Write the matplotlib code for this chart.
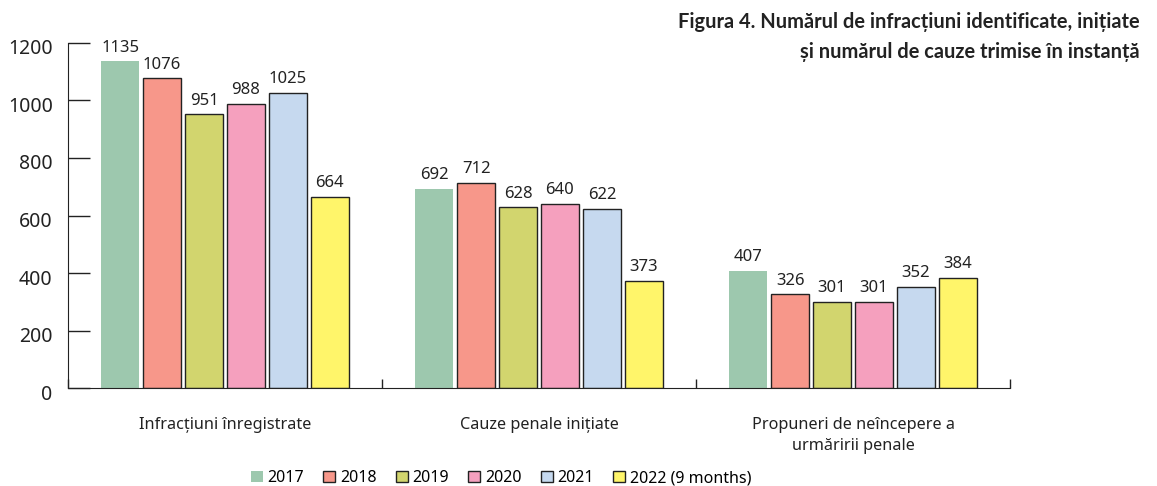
import matplotlib.pyplot as plt
import matplotlib.transforms as mtransforms
import numpy as np
from matplotlib.ticker import FixedLocator

plt.rcParams['font.family'] = ['Noto Sans', 'DejaVu Sans']

categories = ["Infracțiuni înregistrate", "Cauze penale inițiate",
              "Propuneri de neîncepere a\nurmăririi penale"]
years = ["2017", "2018", "2019", "2020", "2021", "2022 (9 months)"]
values = [
    [1135, 692, 407],   # 2017
    [1076, 712, 326],   # 2018
    [951, 628, 301],    # 2019
    [988, 640, 301],    # 2020
    [1025, 622, 352],   # 2021
    [664, 373, 384],    # 2022 (9 months)
]
colors = ["#9dc8ae", "#f7978a", "#d2d56e", "#f5a0be", "#c6d9ef", "#fff56a"]
title = "Figura 4. Numărul de infracțiuni identificate, inițiate\nși numărul de cauze trimise în instanță"

fig = plt.figure(figsize=(11.57, 4.86), dpi=100)
ax = fig.add_axes([68/1157, 1-388.3/486, 942/1157, (388.3-42.7)/486])

x = np.arange(len(categories))
step = 0.1335
width = 0.121
for i, (yr, vals) in enumerate(zip(years, values)):
    pos = x + (i - 2.5) * step
    edge = "none" if i == 0 else "#222222"
    ax.bar(pos, vals, width, color=colors[i], edgecolor=edge, linewidth=1.0, label=yr)
    for p, v in zip(pos, vals):
        ax.text(p, v + 20, str(v), ha="center", va="bottom", fontsize=12, color="#222222")

ax.set_xlim(-0.5, 2.5)
ax.set_ylim(0, 1200)
ax.set_yticks(range(0, 1201, 200))
ax.tick_params(axis="y", direction="in", length=16, width=1, pad=11, labelsize=14, colors="#222222")
# labels sit a bit below their ticks in the original
shift = mtransforms.ScaledTranslation(0, -4/100, fig.dpi_scale_trans)
for lab in ax.get_yticklabels():
    lab.set_transform(lab.get_transform() + shift)
ax.set_xticks(x)
ax.set_xticklabels(categories, fontsize=11.7, color="#222222", linespacing=1.4)
ax.tick_params(axis="x", which="major", length=0, pad=21)
ax.xaxis.set_minor_locator(FixedLocator([-0.5, 0.5, 1.5, 2.5]))
ax.tick_params(axis="x", which="minor", direction="in", length=6.5, width=1, color="#222222")
for s in ["top", "right"]:
    ax.spines[s].set_visible(False)
for s in ["left", "bottom"]:
    ax.spines[s].set_color("#222222")

fig.text(1140/1157, 1-12/486, title, ha="right", va="top", fontsize=14.4,
         family=["Lato", "DejaVu Sans"], fontweight="bold",
         color="#222222", linespacing=1.65)

fig.legend(loc="center", bbox_to_anchor=(501/1157, 1-478/486), ncol=6, frameon=False,
           fontsize=11.5, handlelength=0.75, handleheight=0.75, handletextpad=0.3,
           columnspacing=1.2)

fig.savefig("out.png", dpi=100)
